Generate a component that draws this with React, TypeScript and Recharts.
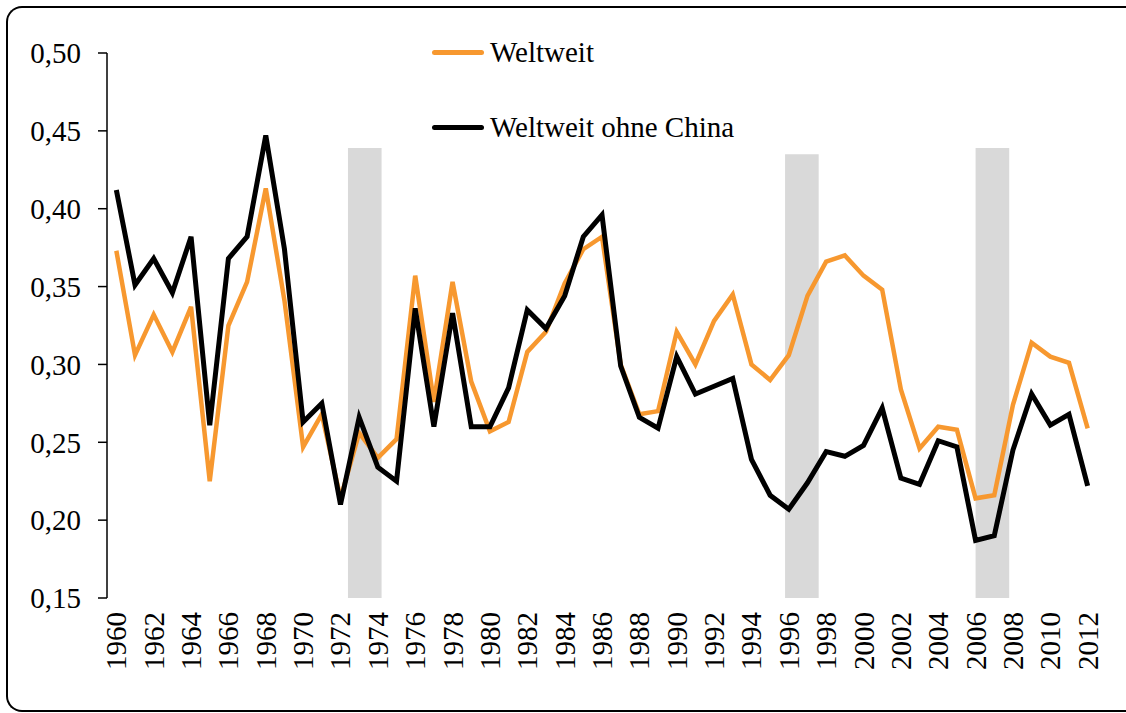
import React from 'react';
import {
   LineChart,
   Line,
   XAxis,
   YAxis,
   ReferenceArea,
   Legend,
} from 'recharts';

const years = [
   1960, 1961, 1962, 1963, 1964, 1965, 1966, 1967, 1968, 1969, 1970, 1971,
   1972, 1973, 1974, 1975, 1976, 1977, 1978, 1979, 1980, 1981, 1982, 1983,
   1984, 1985, 1986, 1987, 1988, 1989, 1990, 1991, 1992, 1993, 1994, 1995,
   1996, 1997, 1998, 1999, 2000, 2001, 2002, 2003, 2004, 2005, 2006, 2007,
   2008, 2009, 2010, 2011, 2012,
];

const weltweit = [
   0.373, 0.306, 0.332, 0.308, 0.337, 0.225, 0.325, 0.353, 0.413, 0.341,
   0.247, 0.268, 0.214, 0.256, 0.24, 0.252, 0.357, 0.276, 0.353, 0.289,
   0.257, 0.263, 0.308, 0.321, 0.352, 0.374, 0.382, 0.3, 0.268, 0.27,
   0.321, 0.3, 0.328, 0.345, 0.3, 0.29, 0.306, 0.344, 0.366, 0.37,
   0.357, 0.348, 0.284, 0.246, 0.26, 0.258, 0.214, 0.216, 0.274, 0.314,
   0.305, 0.301, 0.259,
];

const ohneChina = [
   0.412, 0.351, 0.368, 0.346, 0.382, 0.261, 0.368, 0.382, 0.447, 0.374,
   0.263, 0.275, 0.21, 0.266, 0.234, 0.225, 0.336, 0.26, 0.333, 0.26,
   0.26, 0.285, 0.335, 0.323, 0.344, 0.382, 0.396, 0.299, 0.266, 0.259,
   0.305, 0.281, 0.286, 0.291, 0.239, 0.216, 0.207, 0.224, 0.244, 0.241,
   0.248, 0.272, 0.227, 0.223, 0.251, 0.247, 0.187, 0.19, 0.245, 0.281,
   0.261, 0.268, 0.222,
];

// grey shaded periods
const bandStart = [1972.4, 1995.8, 2006.0];
const bandEnd = [1974.2, 1997.6, 2007.8];
const bandTop = [0.439, 0.435, 0.439];

const yTicks = [0.15, 0.2, 0.25, 0.3, 0.35, 0.4, 0.45, 0.5];
const labelYears = [
   1960, 1962, 1964, 1966, 1968, 1970, 1972, 1974, 1976, 1978, 1980, 1982,
   1984, 1986, 1988, 1990, 1992, 1994, 1996, 1998, 2000, 2002, 2004, 2006,
   2008, 2010, 2012,
];

const FONT = '"Liberation Serif", "Times New Roman", serif';
const FONT_SIZE = 29;

const data = years.map((year, i) => ({
   year,
   weltweit: weltweit[i],
   ohneChina: ohneChina[i],
}));

// tick marks sit between the years, like a category axis
const boundaryTicks = [...years.map((y) => y - 0.5), years[years.length - 1] + 0.5];

const YearTick = ({ x, y, payload }: any) => (
   <text
      x={x}
      y={y}
      transform={`rotate(-90 ${x} ${y})`}
      textAnchor="end"
      dominantBaseline="central"
      fontFamily={FONT}
      fontSize={FONT_SIZE}
      fill="#000"
   >
      {payload.value}
   </text>
);

const LegendContent = ({ payload }: any) => (
   <div style={{ fontFamily: FONT, fontSize: FONT_SIZE, color: '#000' }}>
      {payload.map((entry: any, i: number) => (
         <div
            key={i}
            style={{
               display: 'flex',
               alignItems: 'center',
               height: 40,
               marginBottom: i === 0 ? 35 : 0,
               whiteSpace: 'nowrap',
            }}
         >
            <span
               style={{
                  display: 'inline-block',
                  width: 52,
                  height: 5,
                  borderRadius: 3,
                  background: entry.color,
                  marginRight: 6,
               }}
            />
            <span>{entry.value}</span>
         </div>
      ))}
   </div>
);

export default function App() {
   return (
      <div style={{ position: 'absolute', left: 0, top: 0, width: 1126, height: 713, overflow: 'hidden', background: '#fff' }}>
         {/* frame, its right side lies outside the picture */}
         <div
            style={{
               position: 'absolute',
               left: 6,
               top: 6,
               width: 1130,
               height: 702,
               borderTop: '2px solid #000',
               borderLeft: '2px solid #000',
               borderBottom: '2px solid #000',
               borderTopLeftRadius: 16,
               borderBottomLeftRadius: 16,
            }}
         />
         <LineChart
            width={1126}
            height={713}
            data={data}
            margin={{ top: 53, right: 29, left: 0, bottom: 0 }}
         >
            <XAxis
               xAxisId="tk"
               type="number"
               dataKey="year"
               domain={[1959.5, 2012.5]}
               ticks={boundaryTicks}
               interval={0}
               height={0}
               tick={() => null}
               tickSize={8}
               axisLine={{ stroke: '#000', strokeWidth: 2 }}
               tickLine={{ stroke: '#000', strokeWidth: 2.5 }}
               allowDataOverflow
            />
            <XAxis
               xAxisId="lab"
               type="number"
               dataKey="year"
               domain={[1959.5, 2012.5]}
               ticks={labelYears}
               interval={0}
               height={115}
               axisLine={false}
               tickLine={false}
               tickSize={8}
               tickMargin={6}
               tick={<YearTick />}
               allowDataOverflow
            />
            <YAxis
               domain={[0.15, 0.5]}
               ticks={yTicks}
               width={107}
               interval={0}
               tickSize={9}
               tickMargin={17}
               tickFormatter={(v: number) => v.toFixed(2).replace('.', ',')}
               tick={{ fontFamily: FONT, fontSize: FONT_SIZE, fill: '#000' }}
               axisLine={{ stroke: '#000', strokeWidth: 1.5 }}
               tickLine={{ stroke: '#000', strokeWidth: 1.5 }}
               allowDataOverflow
            />
            {bandStart.map((s, i) => (
               <ReferenceArea
                  key={i}
                  xAxisId="tk"
                  x1={s}
                  x2={bandEnd[i]}
                  y1={0.15}
                  y2={bandTop[i]}
                  fill="#d9d9d9"
                  fillOpacity={1}
                  stroke="none"
               />
            ))}
            <Legend
               layout="vertical"
               align="center"
               verticalAlign="middle"
               content={<LegendContent />}
               wrapperStyle={{ left: 432, top: 32, width: 'auto' }}
            />
            <Line
               xAxisId="tk"
               type="linear"
               dataKey="weltweit"
               name="Weltweit"
               stroke="#f7982f"
               strokeWidth={4.5}
               dot={false}
               isAnimationActive={false}
            />
            <Line
               xAxisId="tk"
               type="linear"
               dataKey="ohneChina"
               name="Weltweit ohne China"
               stroke="#000"
               strokeWidth={5}
               dot={false}
               isAnimationActive={false}
            />
         </LineChart>
      </div>
   );
}
